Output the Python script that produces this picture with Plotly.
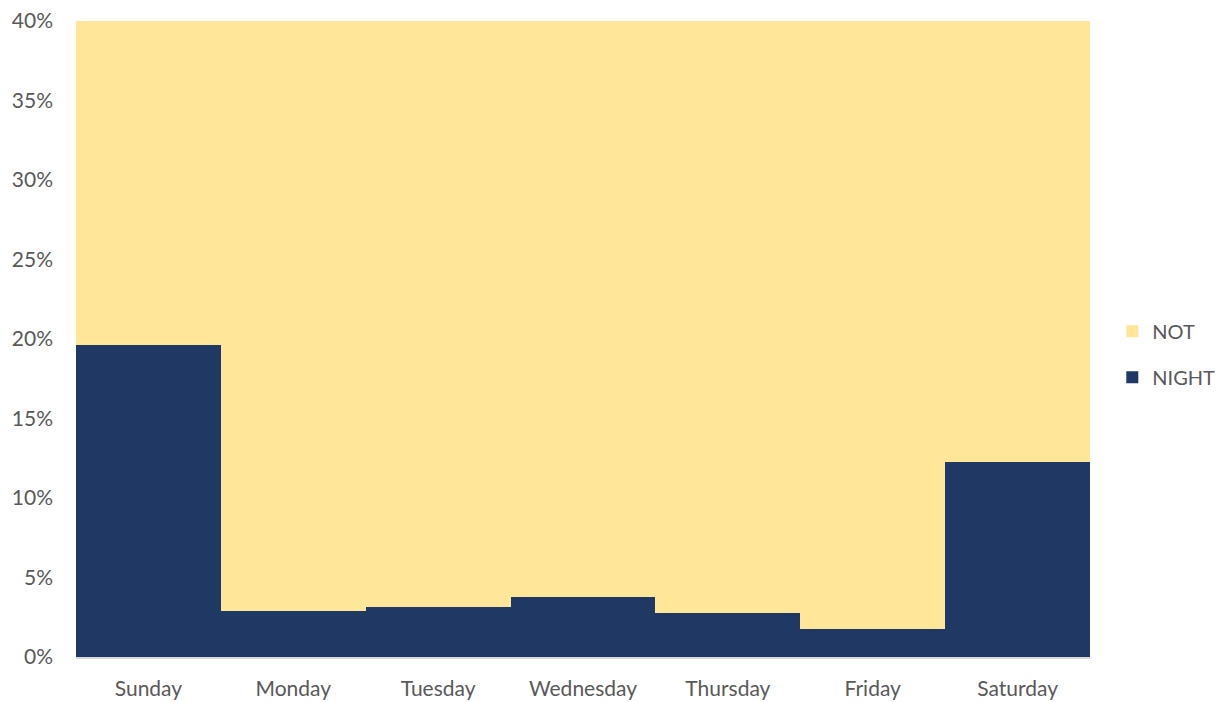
import plotly.graph_objects as go

days = ["Sunday", "Monday", "Tuesday", "Wednesday", "Thursday", "Friday", "Saturday"]
night = [19.65, 2.88, 3.13, 3.76, 2.76, 1.75, 12.29]
not_night = [80.35, 97.12, 96.87, 96.24, 97.24, 98.25, 87.71]
y_ticks = [0, 5, 10, 15, 20, 25, 30, 35, 40]
y_labels = [f"{v}%" for v in y_ticks]

font_family = "Lato, Open Sans, sans-serif"
gray = "#595959"

fig = go.Figure()
fig.add_trace(go.Bar(x=days, y=night, name="NIGHT", marker=dict(color="#203864", line=dict(width=0)),
                     legendgroup="a", legendrank=2))
fig.add_trace(go.Bar(x=days, y=not_night, name="NOT", marker=dict(color="#FFE699", line=dict(width=0)),
                     legendgroup="b", legendrank=1))

fig.update_layout(
    width=1215, height=694,
    barmode="stack", bargap=0,
    margin=dict(l=68, r=133, t=13, b=45, autoexpand=False),
    paper_bgcolor="white", plot_bgcolor="white",
    font=dict(family=font_family, size=21, color=gray),
    legend=dict(x=1.022, y=0.476, xanchor="left", yanchor="middle", traceorder="grouped",
                tracegroupgap=17, itemwidth=30, bgcolor="rgba(0,0,0,0)",
                font=dict(size=20, color=gray)),
    xaxis=dict(showgrid=False, showline=True, linecolor="#d9d9d9", linewidth=2, ticks="",
               automargin=False, ticklabelstandoff=12),
    yaxis=dict(range=[0, 40], tickvals=y_ticks, ticktext=y_labels, showgrid=True, gridcolor="#d9d9d9",
               zeroline=False, showline=False, ticks="", ticklabelstandoff=22, automargin=False,
               ticklabeloverflow="allow"),
)
fig.write_html("out.html")
